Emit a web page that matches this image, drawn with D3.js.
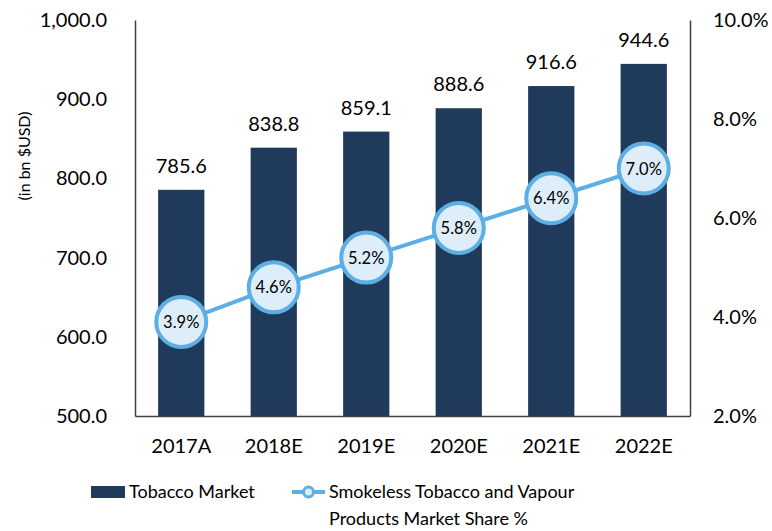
<!DOCTYPE html>
<html><head><meta charset="utf-8">
<script src="https://cdn.jsdelivr.net/npm/d3@7"></script>
<style>body{margin:0;background:#fff}svg{display:block}text{font-family:Lato,"Open Sans",sans-serif;fill:#000}</style>
</head><body><svg id="c" width="772" height="531"></svg>
<script>
const categories = ["2017A","2018E","2019E","2020E","2021E","2022E"];
const marketValues = [785.6, 838.8, 859.1, 888.6, 916.6, 944.6];
const shareValues = [3.9, 4.6, 5.2, 5.8, 6.4, 7.0];
const leftTicks = [500, 600, 700, 800, 900, 1000];
const rightTicks = [2, 4, 6, 8, 10];

const svg = d3.select("#c");
const m = {l:135, r:690, t:20, b:416};
const x = d3.scaleBand().domain(categories).range([m.l, m.r]).paddingInner(0.5).paddingOuter(0.25);
const yL = d3.scaleLinear().domain([500,1000]).range([m.b, m.t]);
const yR = d3.scaleLinear().domain([2,10]).range([m.b, m.t]);
const barColor = "#203A5C", lineColor = "#5CAEE3", markerFill = "#DDEDF9";

// bars
svg.selectAll("rect.bar").data(marketValues).join("rect").attr("class","bar")
  .attr("x",(d,i)=>x(categories[i])).attr("width",x.bandwidth())
  .attr("y",d=>yL(d)).attr("height",d=>m.b-yL(d)).attr("fill",barColor);
svg.selectAll("text.val").data(marketValues).join("text").attr("class","val")
  .attr("x",(d,i)=>x(categories[i])+x.bandwidth()/2).attr("y",d=>yL(d)-17)
  .attr("text-anchor","middle").attr("font-size",20).text(d=>d.toFixed(1));

// axes
const fmtL = d3.format(",.1f");
const gL = svg.append("g").attr("transform",`translate(${m.l},0)`)
  .call(d3.axisLeft(yL).tickValues(leftTicks).tickSize(0).tickPadding(28).tickFormat(fmtL));
const gR = svg.append("g").attr("transform",`translate(${m.r},0)`)
  .call(d3.axisRight(yR).tickValues(rightTicks).tickSize(0).tickPadding(23).tickFormat(d=>d.toFixed(1)+"%"));
const gB = svg.append("g").attr("transform",`translate(0,${m.b})`)
  .call(d3.axisBottom(x).tickSize(0).tickPadding(23));
[gL,gR,gB].forEach(g=>{
  g.select(".domain").attr("stroke","#404040").attr("stroke-width",1.5);
  g.selectAll("text").attr("font-size",20).attr("font-family","Lato,sans-serif").attr("fill","#000");
});

svg.append("text").attr("transform","translate(30,156) rotate(-90)").attr("text-anchor","middle")
  .attr("font-size",16).text("(in bn $USD)");

// line
const cx = (d,i)=>x(categories[i])+x.bandwidth()/2;
const line = d3.line().x(cx).y(d=>yR(d));
svg.append("path").datum(shareValues).attr("d",line).attr("fill","none").attr("stroke",lineColor).attr("stroke-width",4);
svg.selectAll("circle.mk").data(shareValues).join("circle").attr("class","mk")
  .attr("cx",cx).attr("cy",d=>yR(d)).attr("r",25).attr("fill",markerFill).attr("stroke",lineColor).attr("stroke-width",4);
svg.selectAll("text.pl").data(shareValues).join("text").attr("class","pl")
  .attr("x",cx).attr("y",d=>yR(d)+6).attr("text-anchor","middle").attr("font-size",16.5).text(d=>d.toFixed(1)+"%");

// legend
const lg = svg.append("g");
lg.append("rect").attr("x",91).attr("y",486).attr("width",34).attr("height",12).attr("fill",barColor);
lg.append("text").attr("x",129).attr("y",498).attr("font-size",18).text("Tobacco Market");
lg.append("line").attr("x1",292).attr("x2",325).attr("y1",492).attr("y2",492).attr("stroke",lineColor).attr("stroke-width",4);
lg.append("circle").attr("cx",308.5).attr("cy",492).attr("r",5).attr("fill",markerFill).attr("stroke",lineColor).attr("stroke-width",3);
lg.append("text").attr("x",329).attr("y",498).attr("font-size",18).text("Smokeless Tobacco and Vapour");
lg.append("text").attr("x",329).attr("y",525).attr("font-size",18).text("Products Market Share %");
</script></body></html>
